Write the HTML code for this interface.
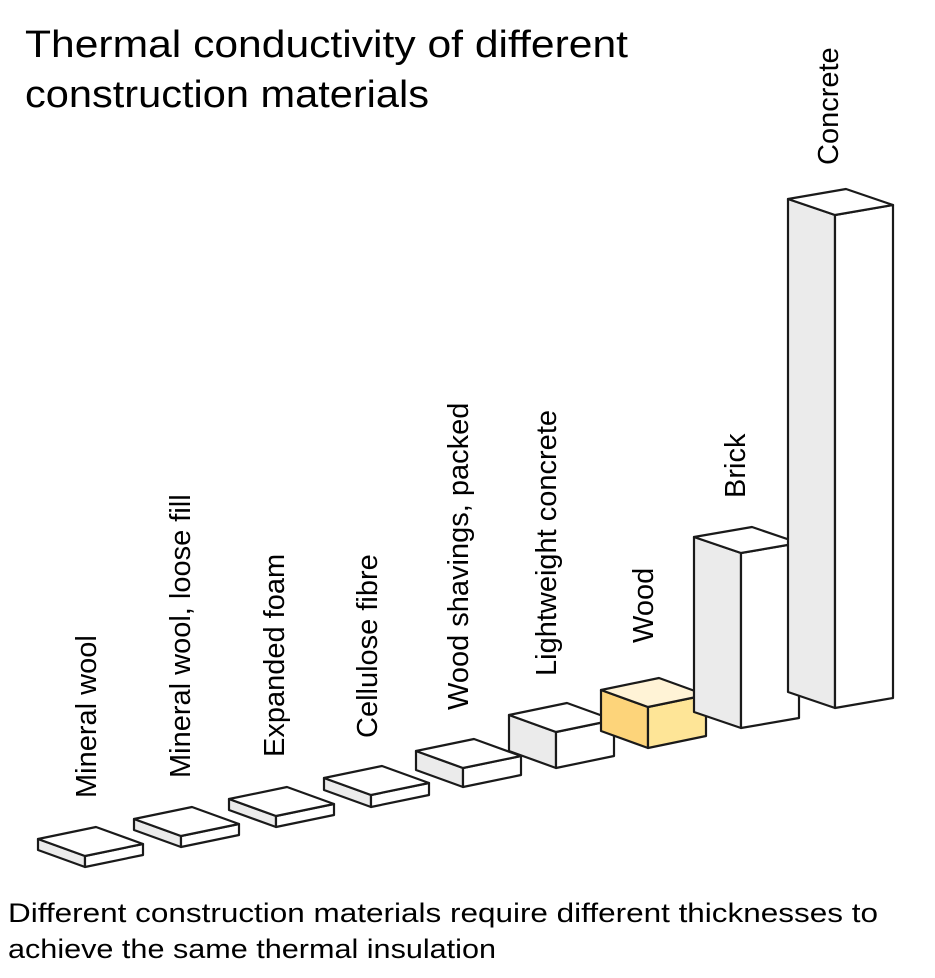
<!DOCTYPE html>
<html><head><meta charset="utf-8"><style>
html,body{margin:0;padding:0;background:#fff;}
svg{display:block;font-family:"Liberation Sans",sans-serif;}
</style></head><body>
<svg width="935" height="978" viewBox="0 0 935 978" xmlns="http://www.w3.org/2000/svg">
<text x="25" y="57" font-size="38" fill="#000" textLength="603" lengthAdjust="spacingAndGlyphs">Thermal conductivity of different</text>
<text x="25" y="107" font-size="38" fill="#000" textLength="404" lengthAdjust="spacingAndGlyphs">construction materials</text>
<g stroke="#1a1a1a" stroke-width="2.2" stroke-linejoin="round">
<polygon points="38,839 85,856 85,867 38,850" fill="#ebebeb"/><polygon points="85,856 143,844 143,855 85,867" fill="#fff"/><polygon points="38,839 96,827 143,844 85,856" fill="#fff"/>
<polygon points="134,819 181,836 181,847 134,830" fill="#ebebeb"/><polygon points="181,836 239,824 239,835 181,847" fill="#fff"/><polygon points="134,819 192,807 239,824 181,836" fill="#fff"/>
<polygon points="229,799 276,816 276,827 229,810" fill="#ebebeb"/><polygon points="276,816 334,804 334,815 276,827" fill="#fff"/><polygon points="229,799 287,787 334,804 276,816" fill="#fff"/>
<polygon points="324,778 371,795 371,807 324,790" fill="#ebebeb"/><polygon points="371,795 429,783 429,795 371,807" fill="#fff"/><polygon points="324,778 382,766 429,783 371,795" fill="#fff"/>
<polygon points="416,751 463,768 463,787 416,770" fill="#ebebeb"/><polygon points="463,768 521,756 521,775 463,787" fill="#fff"/><polygon points="416,751 474,739 521,756 463,768" fill="#fff"/>
<polygon points="509,715 556,732 556,768 509,751" fill="#ebebeb"/><polygon points="556,732 614,720 614,756 556,768" fill="#fff"/><polygon points="509,715 567,703 614,720 556,732" fill="#fff"/>
<polygon points="601,690 648,707 648,748 601,731" fill="#fdd47a"/><polygon points="648,707 706,695 706,736 648,748" fill="#fee597"/><polygon points="601,690 659,678 706,695 648,707" fill="#fff3d6"/>
<polygon points="694,537 741,553 741,728 694,712" fill="#ebebeb"/><polygon points="741,553 799,543 799,718 741,728" fill="#fff"/><polygon points="694,537 752,527 799,543 741,553" fill="#fff"/>
<polygon points="788,199 835,215 835,708 788,692" fill="#ebebeb"/><polygon points="835,215 893,205 893,698 835,708" fill="#fff"/><polygon points="788,199 846,189 893,205 835,215" fill="#fff"/>
</g>
<g font-size="29" fill="#000">
<text transform="translate(96,798) rotate(-90)">Mineral wool</text>
<text transform="translate(190,778) rotate(-90)">Mineral wool, loose fill</text>
<text transform="translate(284,757) rotate(-90)">Expanded foam</text>
<text transform="translate(377,738) rotate(-90)">Cellulose fibre</text>
<text transform="translate(468,710) rotate(-90)">Wood shavings, packed</text>
<text transform="translate(556,676) rotate(-90)">Lightweight concrete</text>
<text transform="translate(653,643) rotate(-90)">Wood</text>
<text transform="translate(745,498) rotate(-90)">Brick</text>
<text transform="translate(838,165) rotate(-90)">Concrete</text>
</g>
<text x="8" y="922" font-size="27" fill="#000" textLength="870" lengthAdjust="spacingAndGlyphs">Different construction materials require different thicknesses to</text>
<text x="8" y="958" font-size="27" fill="#000" textLength="488" lengthAdjust="spacingAndGlyphs">achieve the same thermal insulation</text>
</svg>
</body></html>
